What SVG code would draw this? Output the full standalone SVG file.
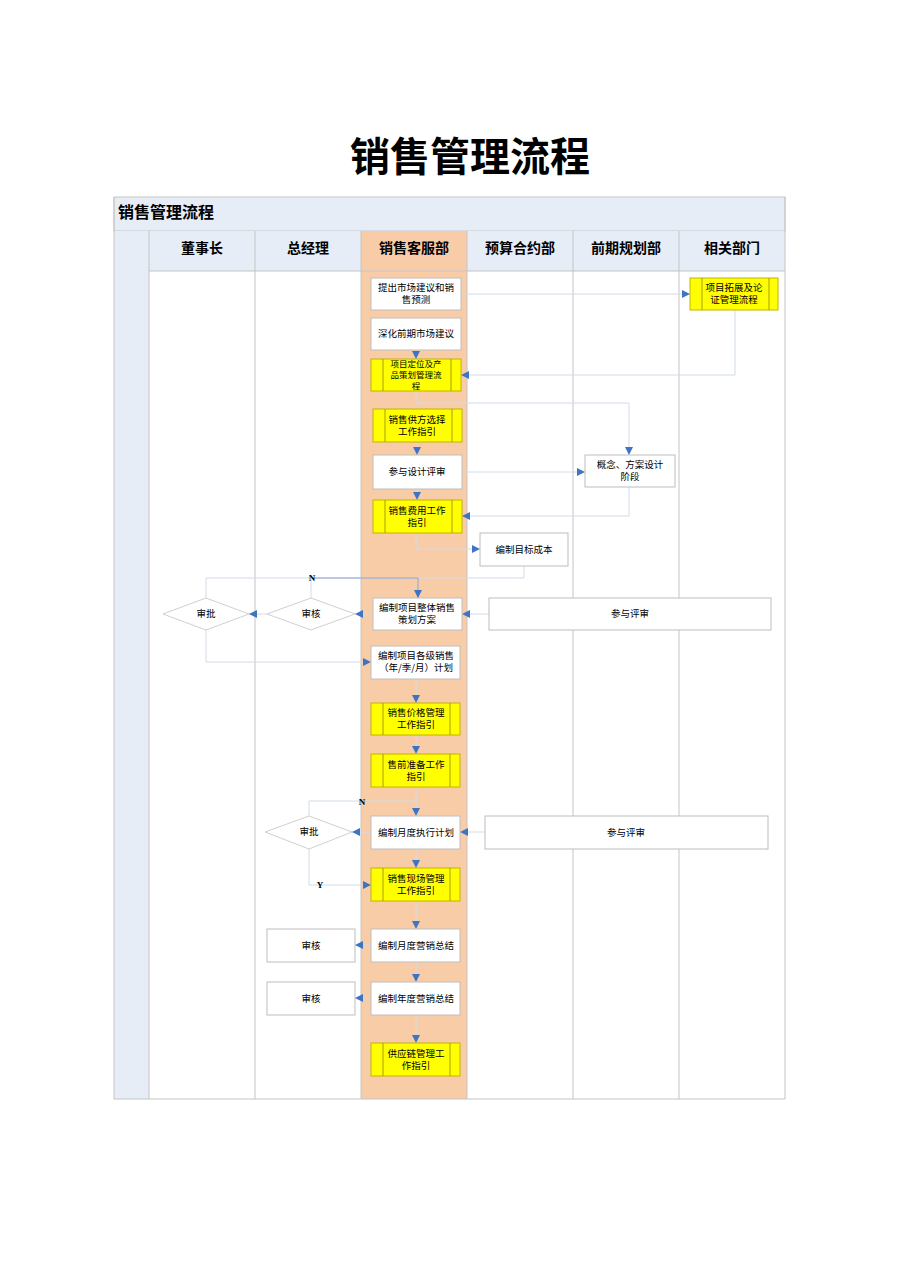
<svg xmlns="http://www.w3.org/2000/svg" width="909" height="1286" viewBox="0 0 909 1286">
<defs>
<marker id="ar" viewBox="0 0 10 10" refX="10" refY="5" markerWidth="8" markerHeight="8" markerUnits="userSpaceOnUse" orient="auto">
<path d="M0,0 L10,5 L0,10 z" fill="#3f73c4"/>
</marker>
<style>
text{font-family:"Noto Sans CJK SC","Noto Sans",sans-serif;fill:#000}
.nt{font-size:9.5px;text-anchor:middle}
.hd{font-size:14px;font-weight:bold;text-anchor:middle}
.wb{fill:#fff;stroke:#bdbdbd;stroke-width:1}
.yb{fill:#ffff00;stroke:#c2b300;stroke-width:1}
.yl{stroke:#a8a000;stroke-width:1}
.dm{fill:#fff;stroke:#d0d0d0;stroke-width:1}
.ln{stroke:#c4c4c4;stroke-width:1}
.cn{fill:none;stroke:#d3dbe8;stroke-width:1;marker-end:url(#ar)}
.cd{fill:none;stroke:#8ea6c8;stroke-width:1;marker-end:url(#ar)}
.cp{fill:none;stroke:#d3dbe8;stroke-width:1}
.lb{font-family:"Liberation Serif",serif;font-size:9px;font-weight:bold;text-anchor:middle}
</style>
</defs>
<rect width="909" height="1286" fill="#fff"/>
<text x="470" y="171" style="font-size:40px;font-weight:bold;text-anchor:middle">销售管理流程</text>
<g id="pool">
<rect x="114" y="197" width="671" height="34" fill="#e6edf7" stroke="#c8c8c8"/>
<text x="118" y="218" style="font-size:16px;font-weight:bold">销售管理流程</text>
<rect x="114" y="231" width="35" height="868" fill="#e6edf7"/>
<rect x="149" y="231" width="636" height="40" fill="#e6edf7"/>
<rect x="361" y="231" width="106" height="868" fill="#f9cca8"/>
<rect x="149" y="271" width="212" height="828" fill="#fff"/>
<rect x="467" y="271" width="318" height="828" fill="#fff"/>
<line class="ln" x1="149" y1="271" x2="785" y2="271" stroke="#e0e0e0"/>
<line class="ln" x1="149" y1="231" x2="149" y2="1099" stroke="#9a9a9a"/>
<line class="ln" x1="255" y1="231" x2="255" y2="1099"/>
<line class="ln" x1="361" y1="231" x2="361" y2="1099" stroke="#a89080"/>
<line class="ln" x1="467" y1="231" x2="467" y2="1099" stroke="#a89080"/>
<line class="ln" x1="573" y1="231" x2="573" y2="1099"/>
<line class="ln" x1="679" y1="231" x2="679" y2="1099"/>
<line class="ln" x1="785" y1="197" x2="785" y2="1099"/>
<line class="ln" x1="114" y1="197" x2="114" y2="1099" stroke="#808080"/>
<line class="ln" x1="114" y1="1099" x2="785" y2="1099"/>
<text class="hd" x="202" y="253">董事长</text>
<text class="hd" x="308" y="253">总经理</text>
<text class="hd" x="414" y="253">销售客服部</text>
<text class="hd" x="520" y="253">预算合约部</text>
<text class="hd" x="626" y="253">前期规划部</text>
<text class="hd" x="732" y="253">相关部门</text>
</g>
<g id="connectors">
<path class="cn" d="M461,294 H690"/>
<path class="cn" d="M735,310 V375 H461"/>
<path class="cn" d="M416,350 V359"/>
<path class="cn" d="M416,391 V403 H629 V455"/>
<path class="cn" d="M417,442 V455"/>
<path class="cn" d="M462,472 H585"/>
<path class="cn" d="M417,489 V500"/>
<path class="cn" d="M629,487 V516 H462"/>
<path class="cn" d="M416,533 V549 H480"/>
<path class="cp" d="M524,566 V578 H418"/>
<path class="cp" d="M206,598 V578 H418"/>
<path class="cd" d="M311,578 H418 V598"/>
<path class="cp" d="M311,598 V578"/>
<path class="cn" d="M373,614 H355"/>
<path class="cn" d="M267,614 H249"/>
<path class="cn" d="M489,614 H462"/>
<path class="cn" d="M206,630 V662 H371"/>
<path class="cn" d="M416,679 V703"/>
<path class="cn" d="M416,735 V754"/>
<path class="cn" d="M416,787 V816"/>
<path class="cp" d="M309,816 V801 H416"/>
<path class="cn" d="M371,832 H352"/>
<path class="cn" d="M485,832 H460"/>
<path class="cn" d="M309,849 V885 H371"/>
<path class="cn" d="M416,849 V868"/>
<path class="cn" d="M416,901 V929"/>
<path class="cn" d="M371,945 H355"/>
<path class="cn" d="M416,962 V982"/>
<path class="cn" d="M371,998 H355"/>
<path class="cn" d="M416,1015 V1043"/>
<text class="lb" x="312" y="581">N</text>
<text class="lb" x="362" y="805">N</text>
<text class="lb" x="320" y="888">Y</text>
</g>
<g id="n1"><rect class="wb" x="371" y="278" width="90" height="32"/><text class="nt" x="416" y="291">提出市场建议和销<tspan x="416" dy="12">售预测</tspan></text></g>
<g id="n2"><rect class="wb" x="371" y="318" width="90" height="32"/><text class="nt" x="416" y="337">深化前期市场建议</text></g>
<g id="n3"><rect class="yb" x="371" y="359" width="90" height="32"/><line class="yl" x1="383" y1="359" x2="383" y2="391"/><line class="yl" x1="451" y1="359" x2="451" y2="391"/><text class="nt" x="416" y="367" style="font-size:8.5px">项目定位及产<tspan x="416" dy="11">品策划管理流</tspan><tspan x="416" dy="11">程</tspan></text></g>
<g id="n4"><rect class="yb" x="373" y="409" width="89" height="33"/><line class="yl" x1="385" y1="409" x2="385" y2="442"/><line class="yl" x1="452" y1="409" x2="452" y2="442"/><text class="nt" x="417" y="423">销售供方选择<tspan x="417" dy="12">工作指引</tspan></text></g>
<g id="n5"><rect class="wb" x="373" y="455" width="89" height="34"/><text class="nt" x="417" y="475">参与设计评审</text></g>
<g id="n6"><rect class="yb" x="373" y="500" width="89" height="33"/><line class="yl" x1="385" y1="500" x2="385" y2="533"/><line class="yl" x1="452" y1="500" x2="452" y2="533"/><text class="nt" x="417" y="514">销售费用工作<tspan x="417" dy="12">指引</tspan></text></g>
<g id="n7"><rect class="wb" x="480" y="533" width="88" height="33"/><text class="nt" x="524" y="553">编制目标成本</text></g>
<g id="n8"><rect class="wb" x="585" y="455" width="90" height="32"/><text class="nt" x="630" y="468">概念、方案设计<tspan x="630" dy="12">阶段</tspan></text></g>
<g id="n9"><rect class="yb" x="690" y="278" width="88" height="32"/><line class="yl" x1="702" y1="278" x2="702" y2="310"/><line class="yl" x1="769" y1="278" x2="769" y2="310"/><text class="nt" x="734" y="291">项目拓展及论<tspan x="734" dy="12">证管理流程</tspan></text></g>
<g id="n10"><rect class="wb" x="373" y="598" width="89" height="32"/><text class="nt" x="417" y="611">编制项目整体销售<tspan x="417" dy="12">策划方案</tspan></text></g>
<g id="n11"><rect class="wb" x="489" y="598" width="282" height="32"/><text class="nt" x="630" y="617">参与评审</text></g>
<g id="n12"><path class="dm" d="M311,598 L355,614 L311,630 L267,614 Z"/><text class="nt" x="311" y="617">审核</text></g>
<g id="n13"><path class="dm" d="M206,598 L249,614 L206,630 L163,614 Z"/><text class="nt" x="206" y="617">审批</text></g>
<g id="n14"><rect class="wb" x="371" y="646" width="89" height="33"/><text class="nt" x="416" y="659">编制项目各级销售<tspan x="416" dy="12">（年/季/月）计划</tspan></text></g>
<g id="n15"><rect class="yb" x="371" y="703" width="89" height="32"/><line class="yl" x1="383" y1="703" x2="383" y2="735"/><line class="yl" x1="450" y1="703" x2="450" y2="735"/><text class="nt" x="416" y="716">销售价格管理<tspan x="416" dy="12">工作指引</tspan></text></g>
<g id="n16"><rect class="yb" x="371" y="754" width="89" height="33"/><line class="yl" x1="383" y1="754" x2="383" y2="787"/><line class="yl" x1="450" y1="754" x2="450" y2="787"/><text class="nt" x="416" y="768">售前准备工作<tspan x="416" dy="12">指引</tspan></text></g>
<g id="n17"><rect class="wb" x="371" y="816" width="89" height="33"/><text class="nt" x="416" y="836">编制月度执行计划</text></g>
<g id="n18"><path class="dm" d="M309,816 L352,832 L309,849 L265,832 Z"/><text class="nt" x="309" y="835">审批</text></g>
<g id="n19"><rect class="wb" x="485" y="816" width="283" height="33"/><text class="nt" x="626" y="836">参与评审</text></g>
<g id="n20"><rect class="yb" x="371" y="868" width="89" height="33"/><line class="yl" x1="383" y1="868" x2="383" y2="901"/><line class="yl" x1="450" y1="868" x2="450" y2="901"/><text class="nt" x="416" y="882">销售现场管理<tspan x="416" dy="12">工作指引</tspan></text></g>
<g id="n21"><rect class="wb" x="371" y="929" width="89" height="33"/><text class="nt" x="416" y="949">编制月度营销总结</text></g>
<g id="n22"><rect class="wb" x="267" y="929" width="88" height="33"/><text class="nt" x="311" y="949">审核</text></g>
<g id="n23"><rect class="wb" x="371" y="982" width="89" height="33"/><text class="nt" x="416" y="1002">编制年度营销总结</text></g>
<g id="n24"><rect class="wb" x="267" y="982" width="88" height="33"/><text class="nt" x="311" y="1002">审核</text></g>
<g id="n25"><rect class="yb" x="371" y="1043" width="89" height="33"/><line class="yl" x1="383" y1="1043" x2="383" y2="1076"/><line class="yl" x1="450" y1="1043" x2="450" y2="1076"/><text class="nt" x="416" y="1057">供应链管理工<tspan x="416" dy="12">作指引</tspan></text></g>
</svg>
